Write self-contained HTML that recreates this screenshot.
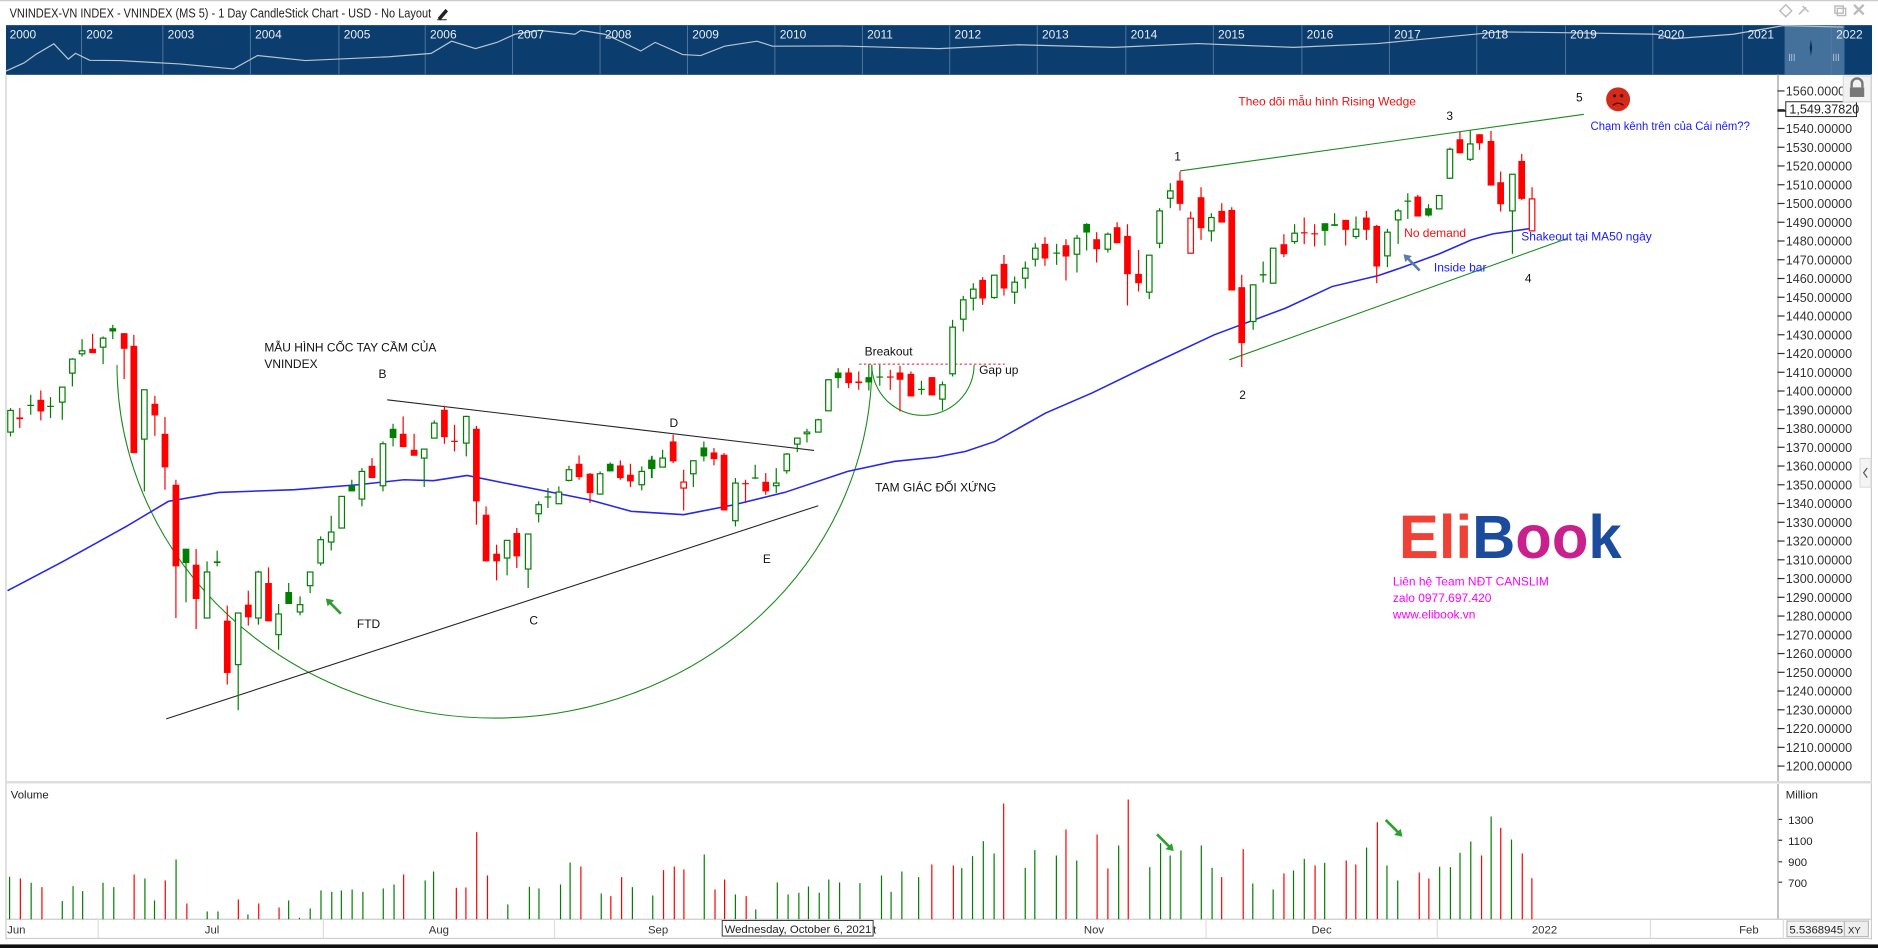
<!DOCTYPE html>
<html><head><meta charset="utf-8"><style>
html,body{margin:0;padding:0;background:#fff;overflow:hidden}
svg{display:block}
text{font-family:"Liberation Sans","DejaVu Sans",sans-serif}
</style></head><body>
<svg id="s" width="1878" height="948" viewBox="0 0 1568 792" preserveAspectRatio="none" xmlns="http://www.w3.org/2000/svg">
<rect x="0" y="0" width="1568" height="792" fill="#fff"/>
<line x1="0" y1="0.5" x2="1568" y2="0.5" stroke="#ccc"/>
<text x="8" y="14.5" font-size="10.5" fill="#222" textLength="352" lengthAdjust="spacingAndGlyphs">VNINDEX-VN INDEX - VNINDEX (MS 5) - 1 Day CandleStick Chart - USD - No Layout</text>
<path d="M366,15 l6,-7 1.5,1.5 -6,7z M365,16.5 h8" stroke="#222" fill="#222" stroke-width="0.8"/>
<g fill="none" stroke="#bbb" stroke-width="1.2">
<path d="M1486,9 l5,-5 5,5 -5,5z"/>
<path d="M1502,12 l6,-6 M1505,5 l5,5"/>
<rect x="1532" y="5" width="7" height="6"/><rect x="1534" y="7" width="7" height="6"/>
<path d="M1548,4 l8,8 M1556,4 l-8,8" stroke-width="2"/>
</g>
<rect x="5" y="21" width="1558" height="41.5" fill="#0b3d6e"/>
<g id="navlines" stroke="#5b7fa5" stroke-width="0.7"></g>
<rect x="1490" y="21" width="50" height="41.5" fill="#4f7aa3" opacity="0.85"/>
<path d="M1512,33 l1,7 -1,7 -1,-7z" fill="#0b2a4c"/>
<g stroke="#cfd8e3" stroke-width="0.6"><path d="M1494,45v6M1496,45v6M1498,45v6M1531,45v6M1533,45v6M1535,45v6"/></g>
<path id="navp" fill="none" stroke="#b9c4d0" stroke-width="1"/>
<g id="navt" font-size="10" fill="#e8eef5"></g>
<line x1="5" y1="62" x2="5" y2="785" stroke="#ccc"/>
<line x1="1562.5" y1="62" x2="1562.5" y2="785" stroke="#ccc"/>
<line x1="1484.5" y1="62" x2="1484.5" y2="653" stroke="#999"/>
<line x1="1484.5" y1="655" x2="1484.5" y2="768" stroke="#999"/>
<rect x="5" y="652.5" width="1558" height="2" fill="#ddd"/>
<line x1="5" y1="768" x2="1562" y2="768" stroke="#ccc"/>
<line x1="5" y1="784" x2="1562" y2="784" stroke="#ccc"/>
<rect x="0" y="789" width="1568" height="3" fill="#111"/>
<g id="pax" font-size="10.5" fill="#333"></g>
<g id="grid"></g>
<g fill="none">
<path d="M97.7,304.8 A315,295 0 0 0 727.9,304.8" stroke="#1a8a1a" stroke-width="0.9"/>
<path d="M727.9,304.8 A42.7,42.3 0 0 0 813.3,304.8" stroke="#1a8a1a" stroke-width="0.9"/>
<line x1="717.3" y1="304.2" x2="838.9" y2="304.2" stroke="#e0103a" stroke-width="0.9" stroke-dasharray="2,2"/>
<line x1="323.3" y1="334" x2="679.7" y2="376.3" stroke="#222" stroke-width="0.9"/>
<line x1="138.8" y1="600.6" x2="683.2" y2="422.5" stroke="#222" stroke-width="0.9"/>
<line x1="985.2" y1="142.8" x2="1322.4" y2="95.5" stroke="#1a8a1a" stroke-width="0.9"/>
<line x1="1026.3" y1="300.6" x2="1309" y2="199" stroke="#1a8a1a" stroke-width="0.9"/>
</g>
<path id="ma" fill="none" stroke="#2626ee" stroke-width="1.3"/>
<g id="cd"></g>
<g id="vol"></g>
<g>
<path d="M284.6,512.7 L275,503" stroke="#2ca02c" stroke-width="2.2"/><path d="M272,500 l7,1.5 -5.5,5z" fill="#2ca02c"/>
<path d="M1185.3,226 L1175,215.5" stroke="#5a7ca8" stroke-width="2.2"/><path d="M1171.8,212.4 l7,1.5 -5.5,5z" fill="#5a7ca8"/>
<path d="M966,697 L977,708" stroke="#2ca02c" stroke-width="2.2"/><path d="M980,711 l-7,-1.5 5.5,-5z" fill="#2ca02c"/>
<path d="M1157,685 L1168,696" stroke="#2ca02c" stroke-width="2.2"/><path d="M1171,699 l-7,-1.5 5.5,-5z" fill="#2ca02c"/>
</g>
<g font-size="10" fill="#111">
<text x="220.7" y="293.6">MẪU HÌNH CỐC TAY CẦM CỦA</text>
<text x="220.7" y="307.6">VNINDEX</text>
<text x="316" y="316">B</text>
<text x="298" y="524.6">FTD</text>
<text x="442" y="521.8">C</text>
<text x="559" y="356.8">D</text>
<text x="637" y="470.4">E</text>
<text x="721.9" y="297">Breakout</text>
<text x="817.5" y="312.6">Gap up</text>
<text x="730.7" y="410.5">TAM GIÁC ĐỐI XỨNG</text>
<text x="980.4" y="134.2">1</text>
<text x="1034.7" y="333.2">2</text>
<text x="1207.6" y="100.2">3</text>
<text x="1273.2" y="236">4</text>
<text x="1315.9" y="84.9">5</text>
</g>
<g font-size="10">
<text x="1034" y="88" fill="#ee1111">Theo dõi mẫu hình Rising Wedge</text>
<text x="1328" y="108.5" fill="#1a1aff" textLength="133" lengthAdjust="spacingAndGlyphs">Chạm kênh trên của Cái nêm??</text>
<text x="1172.4" y="198.2" fill="#ee1111">No demand</text>
<text x="1197.2" y="226.8" fill="#1a1aff">Inside bar</text>
<text x="1270.2" y="201" fill="#1a1aff">Shakeout tại MA50 ngày</text>
</g>
<circle cx="1351" cy="83" r="10" fill="#d42a1a"/>
<circle cx="1348" cy="80" r="1.3" fill="#400"/><circle cx="1354" cy="80" r="1.3" fill="#400"/>
<path d="M1346.5,88 q4.5,-3.5 9,0" stroke="#400" fill="none" stroke-width="1"/>
<text x="1168" y="466" font-size="51" font-weight="bold" textLength="186" lengthAdjust="spacingAndGlyphs"><tspan fill="#ef4136">Eli</tspan><tspan fill="#1a4b9c">B</tspan><tspan fill="#c8208c">oo</tspan><tspan fill="#1a4b9c">k</tspan></text>
<g font-size="10" fill="#ff00ff">
<text x="1163" y="489.3">Liên hệ Team NĐT CANSLIM</text>
<text x="1163" y="502.8">zalo 0977.697.420</text>
<text x="1163" y="516.6">www.elibook.vn</text>
</g>
<rect x="1491" y="85" width="59" height="12.4" fill="#fff" stroke="#222" stroke-width="0.8"/>
<line x1="1484" y1="92.6" x2="1491" y2="92.6" stroke="#222" stroke-width="1.5"/>
<text x="1494" y="94.8" font-size="10.5" fill="#222">1,549.37820</text>
<rect x="1539" y="63.5" width="23" height="21.5" fill="#f2f2f2" stroke="#ddd"/>
<path d="M1546,73 v-3 a4.5,4.5 0 0 1 9,0 v3" fill="none" stroke="#777" stroke-width="2"/>
<rect x="1544.5" y="73" width="12" height="8" fill="#777"/>
<rect x="1553" y="383" width="9" height="24" fill="#f4f4f4" stroke="#ddd"/>
<path d="M1559,391 l-3,4 3,4" fill="none" stroke="#555"/>
<g font-size="9.5" fill="#222">
<text x="9" y="667">Volume</text>
<text x="1491" y="667">Million</text>
<text x="1493" y="688.5">1300</text>
<text x="1493" y="706">1100</text>
<text x="1493" y="723.5">900</text>
<text x="1493" y="741">700</text>
</g>
<g stroke="#333"><path d="M1485,684.6h3M1485,702h3M1485,720h3M1485,737h3"/></g>
<g stroke="#ddd"><path d="M82,768v16M270,768v16M463,768v16M635,768v16M1007,768v16M1200,768v16M1378,768v16M1489,768v16"/></g>
<g font-size="9.5" fill="#333">
<text x="6" y="780">Jun</text><text x="171" y="780">Jul</text><text x="358" y="780">Aug</text><text x="541" y="780">Sep</text>
<text x="905" y="780">Nov</text><text x="1095" y="780">Dec</text><text x="1279" y="780">2022</text><text x="1452" y="780">Feb</text>
<text x="729" y="780">t</text>
</g>
<rect x="603" y="769" width="126" height="13" fill="#fff" stroke="#333" stroke-width="0.8"/>
<text x="605" y="779.5" font-size="9.5" fill="#222">Wednesday, October 6, 2021</text>
<rect x="1492" y="769.5" width="48" height="13" fill="#f4f4f4" stroke="#bbb"/>
<text x="1494" y="780" font-size="9.5" fill="#222">5.5368945</text>
<rect x="1540" y="769.5" width="20" height="13" fill="#eee" stroke="#bbb"/>
<text x="1543" y="780" font-size="8" fill="#222">XY</text>
</svg>
<script>
var NS="http://www.w3.org/2000/svg";
function el(p,t,a,txt){var e=document.createElementNS(NS,t);for(var k in a)e.setAttribute(k,a[k]);if(txt!=null)e.textContent=txt;document.getElementById(p).appendChild(e);return e;}
var yrs=[[8,"2000"],[72,"2002"],[140,"2003"],[213,"2004"],[287,"2005"],[359,"2006"],[432,"2007"],[505,"2008"],[578,"2009"],[651,"2010"],[724,"2011"],[797,"2012"],[870,"2013"],[944,"2014"],[1017,"2015"],[1091,"2016"],[1164,"2017"],[1237,"2018"],[1311,"2019"],[1384,"2020"],[1459,"2021"],[1533,"2022"]];
yrs.forEach(function(y,i){if(i>0)el("navlines","line",{x1:y[0]-4,y1:21,x2:y[0]-4,y2:62});el("navt","text",{x:y[0],y:32},y[1]);});
var np=[[5,60],[20,52],[30,46],[45,36],[57,50],[63,44],[75,51],[100,50],[150,54],[195,57],[215,47],[255,50],[325,48],[360,44],[377,35],[397,40],[415,36],[430,28],[450,26],[480,28],[485,26],[505,28],[520,36],[535,42],[547,36],[570,45],[585,47],[605,38],[632,35],[645,38],[700,39],[784,40],[850,38],[930,39],[1000,37],[1080,39],[1150,37],[1252,26],[1314,28],[1383,28],[1397,33],[1447,28],[1489,22],[1539,22]];
var d="";np.forEach(function(p,i){d+=(i?"L":"M")+p[0]+","+(p[1]+(i%2?0.6:-0.6));});document.getElementById("navp").setAttribute("d",d);
for(var p=1570;p>=1200;p-=10){var y=76+(1560-p)*1.5667;if(y<63)continue;el("pax","line",{x1:1484,y1:y,x2:1490,y2:y,stroke:"#333"});el("pax","text",{x:1491,y:y+3.8},p.toFixed(5));}
var zones={a:[0,2.846,250.5],b:[542.7,2.846,267.2],c:[784.8,3.593,150.3],d:[918.4,3.354,83.5]};
function cx(z,v){return zones[z][0]+v/zones[z][1];}
function cy(z,v){return zones[z][2]+v/3.593;}
var C={a:[[25,'G',332,397,325,410],[47,'R',353,358,325,385],[73,'g',315,317,285,345],[97,'R',300,335,272,362],[120,'g',318,320,292,355],[148,'G',262,307,262,360],[172,'G',178,220,175,260],[195,'G',153,162,118,170],[220,'R',147,160,102,160],[245,'G',115,142,110,193],[268,'g',85,95,75,118],[295,'R',100,147,100,238],[318,'R',138,460,105,460],[343,'G',270,418,270,575],[368,'R',312,347,288,408],[392,'R',402,503,352,570],[418,'R',555,800,540,955],[442,'g',747,790,747,908],[466,'R',795,898,748,988],[492,'G',817,955,785,955],[516,'g',785,790,753,800],[540,'R',963,1120,918,1155],[566,'G',940,1095,940,1232],[590,'R',915,953,873,978],[614,'G',817,955,813,975],[638,'R',850,965,803,965],[662,'G',943,1005,913,1050],[686,'g',877,913,850,913],[713,'G',915,937,890,947],[737,'G',817,858,817,880],[762,'G',720,790,710,798],[787,'G',697,727,648,752],[812,'G',590,685,590,685],[836,'g',558,575,540,575],[860,'G',515,598,505,620],[884,'R',498,535,475,535],[910,'G',432,558,425,575],[934,'g',387,415,372,440],[958,'R',402,442,350,442],[984,'R',450,468,402,468],[1008,'G',448,475,448,562],[1032,'G',370,415,362,415],[1056,'R',330,412,318,432],[1080,'R',423,425,375,455],[1108,'G',350,430,348,470],[1132,'R',387,605,378,675],[1155,'R',645,785,620,785],[1180,'R',762,785,735,842],[1205,'G',722,775,722,827],[1228,'R',700,770,685,805],[1255,'G',703,808,703,865],[1280,'G',615,642,605,668],[1302,'g',590,593,565,625],[1328,'G',577,612,560,612],[1352,'G',510,542,498,545],[1376,'R',492,532,467,540],[1402,'R',522,580,520,610],[1426,'G',522,583,515,585],[1450,'g',492,515,488,515],[1474,'R',497,535,482,540],[1498,'R',525,545,492,562],[1525,'G',515,555,500,572],[1548,'g',480,508,470,535]],
b:[[5,'g',420,447,408,475],[30,'G',415,442,390,442],[55,'R',365,425,345,430],[80,'r',487,505,450,572],[103,'G',423,462,423,502],[128,'g',383,410,365,425],[152,'R',398,418,385,437],[176,'R',405,572,400,572],[203,'G',490,603,475,620],[227,'R',490,493,480,550],[250,'g',473,475,435,478],[275,'R',486,515,460,525],[300,'G',490,498,445,520],[325,'G',403,453,400,462],[350,'G',355,373,355,397],[373,'G',337,342,327,368],[400,'G',300,337,297,337],[424,'G',180,273,178,273],[447,'g',158,175,145,205],[472,'R',158,190,145,205],[496,'R',185,190,155,210],[520,'g',172,188,133,212],[546,'g',170,172,135,198],[571,'R',170,172,150,210],[594,'R',158,180,138,275],[620,'R',162,230,155,230],[645,'g',207,210,183,225],[670,'R',172,227,172,227],[695,'G',195,238,185,272],[719,'G',22,162,0,170]],
c:[[70,'G',360,418,348,455],[100,'G',328,355,310,392],[128,'R',300,356,292,375],[163,'G',286,353,286,357],[192,'R',252,326,225,347],[224,'G',307,337,290,372],[256,'G',265,295,245,326],[286,'G',205,238,190,260],[315,'R',192,236,172,258],[350,'g',218,221,192,255],[378,'R',196,230,178,302],[411,'G',175,223,165,278],[440,'g',132,158,130,212],[470,'R',178,208,157,248]],
d:[[22,'G',403,448,398,458],[48,'R',382,430,367,430],[77,'R',408,523,373,617],[108,'R',522,550,450,575],[138,'G',466,577,466,598],[167,'G',333,430,325,445],[197,'G',273,295,250,325],[224,'R',242,312,215,332],[254,'r',355,460,335,460],[283,'R',292,385,262,420],[312,'G',353,393,340,425],[341,'R',333,368,310,368],[369,'R',330,572,322,572],[397,'R',562,730,525,802],[429,'G',555,665,555,690],[457,'g',523,527,485,548],[485,'G',445,550,445,550],[515,'R',433,463,403,472],[545,'G',400,425,373,432],[572,'R',397,400,353,433],[601,'R',400,401,373,440],[630,'g',370,393,370,437],[657,'g',373,378,340,378],[688,'R',360,390,360,437],[717,'G',388,410,350,417],[746,'R',353,390,333,420],[775,'R',378,500,375,550],[805,'G',397,468,387,502],[835,'G',333,360,327,432],[862,'g',302,304,280,357],[890,'R',290,350,285,350],[920,'g',325,347,313,350],[950,'G',287,327,285,327],[980,'G',148,235,143,237],[1008,'R',118,160,95,160],[1037,'G',132,178,92,183],[1063,'R',103,130,103,150],[1095,'R',123,257,93,257],[1122,'R',247,313,215,335],[1155,'G',223,333,223,462],[1181,'R',183,297,162,300],[1210,'r',297,393,262,393]]};
for(var z in C){C[z].forEach(function(c){var x=cx(z,c[0]),bt=cy(z,c[2]),bb=cy(z,c[3]),wt=cy(z,c[4]),wb=cy(z,c[5]);
var col=(c[1]=='G'||c[1]=='g')?'#008000':'#ff0000';var filled=(c[1]=='g'||c[1]=='R');
el("cd","line",{x1:x,y1:wt,x2:x,y2:wb,stroke:col,"stroke-width":1});
var h=Math.max(bb-bt,1);
if(filled)el("cd","rect",{x:x-2.8,y:bt,width:5.6,height:h,fill:col});
else el("cd","rect",{x:x-2.3,y:bt,width:4.6,height:h,fill:"#fff",stroke:col,"stroke-width":1});});}
var ma=[["a",18,873],["a",150,785],["a",300,680],["a",400,605],["a",520,578],["a",700,570],["a",850,555],["a",960,540],["a",1030,543],["a",1110,527],["a",1200,550],["a",1300,575],["a",1400,600],["a",1500,635],["b",80,585],["b",200,555],["b",320,518],["b",470,455],["b",580,425],["b",680,412],["b",750,395],["b",820,365],["b",940,280],["b",1050,220],["b",1180,140],["d",320,705],["d",520,625],["d",650,560],["d",780,527],["d",840,505],["d",950,462],["d",1040,420],["d",1100,402],["d",1210,385]];
d="";ma.forEach(function(p,i){d+=(i?"L":"M")+cx(p[0],p[1]).toFixed(1)+","+cy(p[0],p[2]).toFixed(1);});document.getElementById("ma").setAttribute("d",d);
var V=[[8,'G',352],[17,'R',357],[26,'G',370],[35,'R',383],[52,'G',425],[61,'G',380],[69,'G',395],[86,'G',370],[95,'G',383],[112,'R',345],[121,'G',357],[129,'G',423],[138,'R',363],[147,'G',300],[156,'R',432],[173,'G',456],[182,'G',456],[199,'R',420],[207,'G',465],[216,'R',432],[233,'R',444],[241,'G',423],[250,'G',475],[259,'G',447],[268,'G',393],[277,'G',397],[285,'G',393],[294,'G',390],[303,'G',397],[320,'G',387],[329,'G',375],[337,'R',345],[355,'G',363],[362,'G',336],[381,'R',385],[389,'R',384],[398,'R',218],[407,'R',348],[424,'G',435],[442,'G',382],[450,'G',387],[468,'G',375],[476,'G',309],[485,'R',321],[502,'G',402],[510,'R',410],[519,'R',353],[528,'G',383],[545,'G',408],[554,'R',332],[563,'R',321],[571,'R',330],[588,'G',285],[597,'R',390],[605,'R',360],[614,'G',405],[623,'R',410],[631,'G',450],[649,'G',369],[658,'G',405],[667,'G',400],[675,'G',381],[684,'G',400],[692,'G',360],[701,'G',369],[718,'G',371],[736,'G',348],[744,'G',397],[753,'G',336],[767,'G',353],[778,'R',315],[796,'R',318],[803,'G',326],[812,'G',290],[821,'G',245],[830,'G',282],[838,'R',132],[856,'G',325],[864,'G',272],[882,'G',288],[890,'R',210],[899,'G',303],[916,'R',225],[925,'R',327],[934,'G',258],[942,'R',120],[960,'G',323],[969,'G',251],[977,'G',288],[986,'G',273],[1003,'G',258],[1012,'G',325],[1020,'R',353],[1038,'R',269],[1046,'G',372],[1063,'G',390],[1072,'R',342],[1080,'G',333],[1089,'G',298],[1098,'R',318],[1106,'G',310],[1124,'R',303],[1132,'R',315],[1141,'G',264],[1150,'R',188],[1158,'G',318],[1167,'G',363],[1185,'R',339],[1193,'R',357],[1202,'G',322],[1211,'G',323],[1219,'G',280],[1228,'G',246],[1237,'R',288],[1245,'G',171],[1253,'R',205],[1262,'G',240],[1271,'R',282],[1279,'R',356]];
V.forEach(function(v){var y=(760+v[2]/3)/1.1977;el("vol","line",{x1:v[0],y1:y,x2:v[0],y2:768,stroke:v[1]=='G'?'#008000':'#ff0000',"stroke-width":1});});
</script>
</body></html>
